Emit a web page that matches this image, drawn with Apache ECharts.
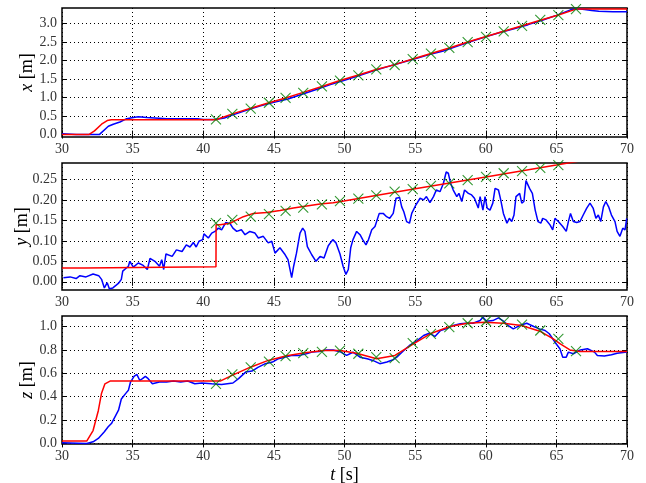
<!DOCTYPE html>
<html>
<head>
<meta charset="utf-8">
<script src="https://cdn.jsdelivr.net/npm/echarts@6/dist/echarts.min.js"></script>
<style>
  html, body { margin: 0; padding: 0; background: #fff; }
  #chart { width: 646px; height: 483px; }
</style>
</head>
<body>
<div id="chart"></div>
<script>
// waypoints (green crosses)
const wpT = [40.9, 42.06, 43.36, 44.65, 45.83, 47.08, 48.4, 49.68, 50.98, 52.25, 53.55, 54.83, 56.12, 57.42, 58.72, 60.02, 61.27, 62.57, 63.86, 65.14, 66.39];
const wpX = [0.41, 0.56, 0.70, 0.86, 0.99, 1.13, 1.30, 1.46, 1.60, 1.76, 1.88, 2.04, 2.19, 2.34, 2.50, 2.64, 2.79, 2.94, 3.10, 3.23, 3.39];
const wpY = [0.143, 0.151, 0.159, 0.165, 0.173, 0.181, 0.189, 0.197, 0.203, 0.211, 0.220, 0.226, 0.234, 0.240, 0.248, 0.256, 0.265, 0.270, 0.278, 0.285, 0.291];
const wpZ = [0.51, 0.59, 0.65, 0.70, 0.747, 0.772, 0.784, 0.793, 0.767, 0.738, 0.73, 0.858, 0.938, 0.994, 1.028, 1.045, 1.037, 1.017, 0.966, 0.895, 0.79];

// reference (red)
const refXT = [30, 31.9, 32.3, 32.8, 33.2, 33.5, 40.9, 42.06, 43.36, 44.65, 45.83, 47.08, 48.4, 49.68, 50.98, 52.25, 53.55, 54.83, 56.12, 57.42, 58.72, 60.02, 61.27, 62.57, 63.86, 65.14, 66.39, 70];
const refX = [0, 0, 0.1, 0.28, 0.38, 0.40, 0.40, 0.56, 0.71, 0.86, 0.99, 1.14, 1.30, 1.46, 1.61, 1.76, 1.89, 2.04, 2.19, 2.34, 2.50, 2.65, 2.79, 2.94, 3.09, 3.23, 3.39, 3.39];
const refYT = [30, 31.6, 31.7, 40.9, 40.91, 41.19, 41.9, 42.37, 42.84, 43.55, 44.49, 45.43, 46.38, 47.32, 48.27, 49.2, 49.96, 55, 60, 65, 67, 70];
const refY = [0.034, 0.034, 0.037, 0.037, 0.139, 0.139, 0.143, 0.151, 0.159, 0.167, 0.169, 0.174, 0.180, 0.185, 0.190, 0.193, 0.197, 0.227, 0.256, 0.285, 0.297, 0.31];
const refZT = [30, 31.75, 32.2, 32.57, 32.8, 33.04, 33.4, 41.2, 42.0, 43.3, 44.6, 45.9, 47.2, 48.5, 49.68, 50.86, 52.27, 53.57, 54.91, 56.16, 57.46, 58.71, 59.94, 61.24, 62.54, 63.83, 64.78, 65.25, 65.96, 66.67, 70];
const refZ = [0.02, 0.02, 0.11, 0.28, 0.43, 0.51, 0.533, 0.533, 0.58, 0.65, 0.71, 0.75, 0.776, 0.795, 0.795, 0.772, 0.725, 0.753, 0.853, 0.943, 1.0, 1.028, 1.037, 1.028, 1.008, 0.96, 0.895, 0.853, 0.80, 0.787, 0.787];

// measured (blue)
const measXT = [30, 31, 32, 32.64, 33.28, 33.63, 34.1, 34.58, 35.05, 35.4, 36.0, 37.4, 39.6, 40.0, 40.83, 41.5, 42, 43, 44, 45, 46, 47, 48, 49, 50, 51, 52, 53, 54, 55, 56, 57, 58, 59, 60, 61, 62, 63, 64, 65, 66, 66.5, 67, 67.5, 68, 69, 70];
const measX = [0.02, 0.0, 0.0, 0.0, 0.225, 0.28, 0.34, 0.43, 0.46, 0.48, 0.46, 0.43, 0.43, 0.41, 0.41, 0.45, 0.52, 0.65, 0.77, 0.87, 0.96, 1.09, 1.22, 1.35, 1.47, 1.59, 1.72, 1.83, 1.94, 2.05, 2.16, 2.26, 2.39, 2.52, 2.64, 2.76, 2.86, 2.97, 3.09, 3.22, 3.37, 3.40, 3.38, 3.35, 3.33, 3.32, 3.32];
const measYT = [30.1, 30.57, 31.0, 31.27, 31.7, 32.2, 32.6, 32.8, 33.0, 33.2, 33.35, 33.6, 33.99, 34.2, 34.3, 34.7, 34.8, 35.05, 35.4, 35.75, 36.04, 36.23, 36.58, 36.9, 37.06, 37.2, 37.36, 37.8, 38.1, 38.5, 38.8, 39.06, 39.3, 39.5, 39.7, 39.96, 40.05, 40.36, 40.6, 40.83, 41.07, 41.3, 41.6, 41.9, 42.1, 42.37, 42.7, 42.96, 43.3, 43.66, 43.9, 44.25, 44.6, 44.85, 45.08, 45.43, 45.8, 46.0, 46.26, 46.4, 46.6, 46.85, 47.04, 47.2, 47.37, 47.68, 47.98, 48.27, 48.55, 48.85, 49.17, 49.4, 49.68, 49.9, 50.1, 50.27, 50.44, 50.6, 50.86, 51.1, 51.29, 51.52, 51.7, 51.93, 52.16, 52.46, 52.74, 52.98, 53.2, 53.45, 53.65, 53.9, 54.05, 54.2, 54.4, 54.6, 54.76, 55.06, 55.35, 55.6, 55.8, 56.05, 56.3, 56.5, 56.76, 57.0, 57.2, 57.35, 57.5, 57.7, 57.95, 58.1, 58.3, 58.5, 58.77, 59.0, 59.2, 59.47, 59.6, 59.8, 59.95, 60.1, 60.3, 60.5, 60.66, 60.9, 61.06, 61.25, 61.5, 61.67, 61.84, 62.0, 62.14, 62.4, 62.55, 62.7, 62.85, 63.1, 63.3, 63.5, 63.7, 63.9, 64.03, 64.27, 64.55, 64.74, 64.9, 65.14, 65.45, 65.7, 65.85, 66.0, 66.2, 66.44, 66.67, 66.9, 67.15, 67.38, 67.6, 67.8, 67.97, 68.14, 68.33, 68.5, 68.7, 68.9, 69.15, 69.3, 69.5, 69.7, 69.86, 69.98];
const measY = [0.010, 0.012, 0.008, 0.015, 0.012, 0.019, 0.015, 0.006, -0.015, -0.002, -0.017, -0.015, -0.004, 0.006, 0.026, 0.038, 0.050, 0.036, 0.046, 0.040, 0.030, 0.057, 0.050, 0.038, 0.054, 0.030, 0.068, 0.062, 0.078, 0.074, 0.090, 0.085, 0.096, 0.085, 0.099, 0.103, 0.117, 0.107, 0.119, 0.123, 0.131, 0.127, 0.145, 0.142, 0.131, 0.123, 0.127, 0.115, 0.123, 0.119, 0.107, 0.111, 0.095, 0.099, 0.070, 0.083, 0.066, 0.054, 0.010, 0.038, 0.070, 0.119, 0.131, 0.123, 0.086, 0.066, 0.050, 0.062, 0.058, 0.088, 0.103, 0.095, 0.068, 0.038, 0.018, 0.030, 0.083, 0.103, 0.123, 0.115, 0.103, 0.090, 0.103, 0.127, 0.135, 0.167, 0.167, 0.159, 0.155, 0.167, 0.204, 0.206, 0.183, 0.171, 0.147, 0.143, 0.167, 0.188, 0.204, 0.200, 0.208, 0.193, 0.208, 0.224, 0.220, 0.240, 0.268, 0.265, 0.242, 0.224, 0.208, 0.216, 0.196, 0.224, 0.216, 0.212, 0.204, 0.180, 0.208, 0.175, 0.208, 0.180, 0.175, 0.192, 0.228, 0.224, 0.200, 0.167, 0.143, 0.155, 0.147, 0.163, 0.208, 0.216, 0.192, 0.196, 0.247, 0.228, 0.216, 0.175, 0.147, 0.143, 0.155, 0.151, 0.139, 0.127, 0.155, 0.147, 0.135, 0.123, 0.147, 0.167, 0.147, 0.145, 0.147, 0.163, 0.180, 0.192, 0.180, 0.155, 0.163, 0.147, 0.183, 0.196, 0.183, 0.163, 0.147, 0.123, 0.111, 0.131, 0.127, 0.155];
const measZT = [30, 31.75, 32.2, 32.57, 33.0, 33.27, 33.5, 33.75, 34.0, 34.2, 34.5, 34.7, 34.85, 35.1, 35.3, 35.5, 35.7, 35.9, 36.1, 36.4, 36.9, 37.4, 37.9, 38.4, 38.9, 39.4, 39.9, 40.6, 41.3, 42.1, 42.5, 43.0, 43.45, 43.9, 44.4, 44.9, 45.3, 45.8, 46.3, 46.8, 47.3, 47.7, 48.2, 48.7, 49.2, 49.68, 50.15, 50.6, 51.1, 51.6, 52.0, 52.5, 53.0, 53.45, 53.7, 54.2, 54.6, 55.1, 55.6, 56.0, 56.4, 56.8, 57.2, 57.7, 58.2, 58.6, 59.1, 59.6, 59.8, 60.05, 60.5, 60.9, 61.2, 61.6, 61.95, 62.4, 62.9, 63.4, 63.8, 64.2, 64.5, 64.9, 65.25, 65.45, 65.7, 65.85, 66.2, 66.7, 67.2, 67.7, 67.9, 68.4, 68.9, 69.3, 70];
const measZ = [0.005, 0.0, 0.014, 0.043, 0.10, 0.142, 0.17, 0.227, 0.284, 0.38, 0.426, 0.454, 0.525, 0.574, 0.59, 0.54, 0.554, 0.574, 0.554, 0.51, 0.525, 0.525, 0.534, 0.525, 0.534, 0.51, 0.517, 0.51, 0.505, 0.517, 0.554, 0.61, 0.619, 0.653, 0.682, 0.696, 0.724, 0.738, 0.753, 0.753, 0.767, 0.781, 0.787, 0.80, 0.80, 0.785, 0.753, 0.78, 0.738, 0.724, 0.71, 0.682, 0.696, 0.716, 0.738, 0.795, 0.838, 0.875, 0.923, 0.943, 0.915, 0.966, 0.98, 1.008, 1.023, 1.028, 1.028, 1.051, 1.079, 1.045, 1.051, 1.074, 1.051, 1.008, 0.98, 1.008, 1.028, 1.0, 0.98, 0.966, 0.938, 0.866, 0.81, 0.738, 0.738, 0.781, 0.767, 0.80, 0.81, 0.781, 0.753, 0.747, 0.758, 0.772, 0.781];

const tTicks = [30, 35, 40, 45, 50, 55, 60, 65, 70];
const xTicks = [0.0, 0.5, 1.0, 1.5, 2.0, 2.5, 3.0];
const yTicks = [0.00, 0.05, 0.10, 0.15, 0.20, 0.25];
const zTicks = [0.0, 0.2, 0.4, 0.6, 0.8, 1.0];

const zip = (a, b) => a.map((v, i) => [v, b[i]]);
const serif = 'Liberation Serif';

const panels = [
  { top: 8, height: 129, min: -0.065, max: 3.42, ticks: xTicks, digits: 1, name: '{i|x} [m]', gap: 26,
    meas: zip(measXT, measX), ref: zip(refXT, refX), wp: zip(wpT, wpX) },
  { top: 163, height: 127, min: -0.02, max: 0.29, ticks: yTicks, digits: 2, name: '{i|y} [m]', gap: 31,
    meas: zip(measYT, measY), ref: zip(refYT, refY), wp: zip(wpT, wpY) },
  { top: 316, height: 128, min: -0.005, max: 1.09, ticks: zTicks, digits: 1, name: '{i|z} [m]', gap: 26,
    meas: zip(measZT, measZ), ref: zip(refZT, refZ), wp: zip(wpT, wpZ) },
]

const chart = echarts.init(document.getElementById('chart'))

const grid = [], xAxis = [], yAxis = [], series = []
const tickStyle = { show: true, inside: true, length: 4, lineStyle: { color: '#000', width: 1 } }
const dotted = { color: '#000', width: 1, type: [1, 3] }
const nameStyle = { color: '#000', fontFamily: serif, fontSize: 18, rich: { i: { fontStyle: 'italic', fontFamily: serif, fontSize: 18 } } }

panels.forEach((p, i) => {
  grid.push({ left: 62, right: 19, top: p.top, height: p.height, outerBoundsMode: 'none',
    show: true, borderColor: '#000', borderWidth: 1.5, backgroundColor: '#fff' })
  // bottom axis with labels
  xAxis.push({
    gridIndex: i, type: 'value', min: tTicks[0], max: tTicks[tTicks.length - 1], interval: 5,
    axisLine: { show: false }, axisTick: tickStyle,
    axisLabel: { color: '#333', fontFamily: serif, fontSize: 14, margin: 5 },
    splitLine: { show: true, lineStyle: dotted },
    name: i === 2 ? '{i|t} [s]' : '', nameLocation: 'middle', nameGap: 22, nameMoveOverlap: false,
    nameTextStyle: nameStyle,
  })
  // top axis, ticks only
  xAxis.push({
    gridIndex: i, type: 'value', position: 'top', min: 30, max: 70, interval: 5,
    axisLine: { show: false }, axisTick: tickStyle, axisLabel: { show: false }, splitLine: { show: false },
  })
  yAxis.push({
    gridIndex: i, type: 'value', min: p.min, max: p.max,
    axisLine: { show: false },
    axisTick: Object.assign({ customValues: p.ticks }, tickStyle),
    axisLabel: { customValues: p.ticks, color: '#333', fontFamily: serif, fontSize: 14, margin: 5,
      formatter: v => v.toFixed(p.digits) },
    splitLine: { show: false },
    name: p.name, nameLocation: 'middle', nameGap: p.gap, nameRotate: 90, nameMoveOverlap: false,
    nameTextStyle: nameStyle,
  })
  yAxis.push({
    gridIndex: i, type: 'value', position: 'right', min: p.min, max: p.max,
    axisLine: { show: false },
    axisTick: Object.assign({ customValues: p.ticks }, tickStyle),
    axisLabel: { show: false }, splitLine: { show: false },
  })

  series.push({
    type: 'line', xAxisIndex: i * 2, yAxisIndex: i * 2, data: p.meas,
    showSymbol: false, lineStyle: { color: '#0000ff', width: 1.5 }, z: 3,
    markLine: {
      silent: true, symbol: 'none', z: 1, label: { show: false },
      lineStyle: dotted, emphasis: { disabled: true },
      data: p.ticks.map(v => ({ yAxis: v })),
    },
  })
  series.push({
    type: 'line', xAxisIndex: i * 2, yAxisIndex: i * 2, data: p.ref,
    showSymbol: false, lineStyle: { color: '#ff0000', width: 1.5 }, z: 4,
  })
  series.push({
    type: 'scatter', xAxisIndex: i * 2, yAxisIndex: i * 2, data: p.wp,
    symbol: 'path://M0,0L10,10M10,0L0,10', symbolSize: 10,
    itemStyle: { color: 'transparent', borderColor: '#008000', borderWidth: 1.1 }, z: 5,
  })
})

chart.setOption({
  animation: false,
  grid, xAxis, yAxis, series,
})
</script>
</body>
</html>
